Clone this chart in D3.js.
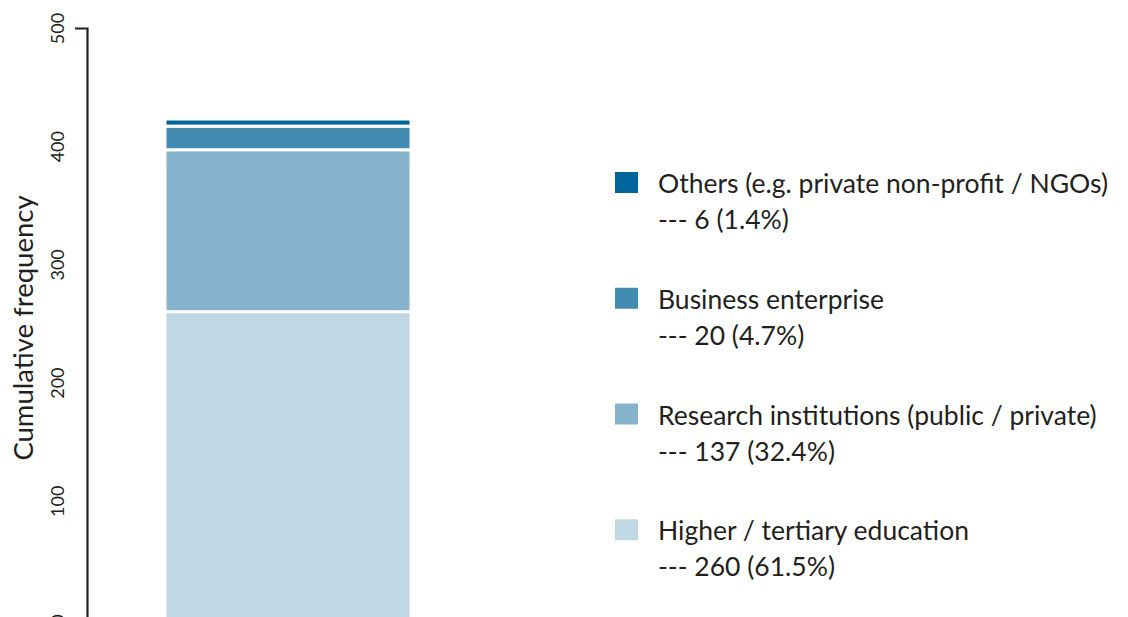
<!DOCTYPE html>
<html>
<head>
<meta charset="utf-8">
<script src="https://cdn.jsdelivr.net/npm/d3@7"></script>
<style>
  body { margin: 0; background: #fff; }
  svg text { font-family: "Lato", "Open Sans", sans-serif; fill: #231f20; }
</style>
</head>
<body>
<div id="chart"></div>
<script>
// data
var categories = ["Higher / tertiary education", "Research institutions (public / private)", "Business enterprise", "Others (e.g. private non-profit / NGOs)"];
var counts = [260, 137, 20, 6];
var percents = ["61.5%", "32.4%", "4.7%", "1.4%"];
var colors = ["#c0d8e4", "#87b3cc", "#438bb0", "#00659a"];
var yTicks = [0, 100, 200, 300, 400, 500];

var width = 1128, height = 617;

var svg = d3.select("#chart").append("svg")
    .attr("width", width).attr("height", height);

// scales
var yScale = d3.scaleLinear().domain([0, 500]).range([619, 28]);
var xScale = d3.scaleBand().domain(["total"]).range([165, 411]);

// stack the segments
var stacked = [];
var acc = 0;
for (var i = 0; i < counts.length; i++) {
    stacked.push({name: categories[i], y0: acc, y1: acc + counts[i], color: colors[i]});
    acc += counts[i];
}

svg.append("g").selectAll("rect").data(stacked).enter()
    .append("rect")
    .attr("x", xScale("total"))
    .attr("width", xScale.bandwidth())
    .attr("y", function(d) { return yScale(d.y1); })
    .attr("height", function(d) { return yScale(d.y0) - yScale(d.y1); })
    .style("fill", function(d) { return d.color; })
    .style("stroke", "#fff").style("stroke-width", 3);

// y axis
var yAxis = d3.axisLeft(yScale).tickValues(yTicks).tickSizeInner(0).tickSizeOuter(12).tickPadding(0);
var gy = svg.append("g").attr("transform", "translate(87,0)").call(yAxis);
gy.select(".domain").style("stroke", "#231f20").style("stroke-width", 2.2);
gy.selectAll(".tick text")
    .attr("transform", "translate(-29,0) rotate(-90)")
    .attr("x", 0).attr("dy", "0.35em")
    .attr("text-anchor", "middle")
    .style("font-size", "18px")
    .style("font-family", "Lato, 'Open Sans', sans-serif")
    .style("fill", "#231f20");

// axis title
svg.append("text")
    .attr("transform", "translate(33,328) rotate(-90)")
    .attr("text-anchor", "middle")
    .style("font-size", "27.5px")
    .text("Cumulative frequency");

// legend, top item first
var legendData = stacked.slice().reverse();
var legendY = d3.scaleBand().domain(legendData.map(function(d) { return d.name; })).range([172, 635]);

var legend = svg.append("g").selectAll("g").data(legendData).enter()
    .append("g")
    .attr("transform", function(d) { return "translate(615," + legendY(d.name) + ")"; });

legend.append("rect")
    .attr("x", 0).attr("y", 0).attr("width", 23).attr("height", 21)
    .style("fill", function(d) { return d.color; });

legend.append("text")
    .attr("x", 43).attr("y", 21)
    .style("font-size", "26.5px")
    .text(function(d) { return d.name; });

legend.append("text")
    .attr("x", 43).attr("y", 57)
    .style("font-size", "26.5px")
    .text(function(d) { return "--- " + (d.y1 - d.y0) + " (" + percents[categories.indexOf(d.name)] + ")"; });
</script>
</body>
</html>
